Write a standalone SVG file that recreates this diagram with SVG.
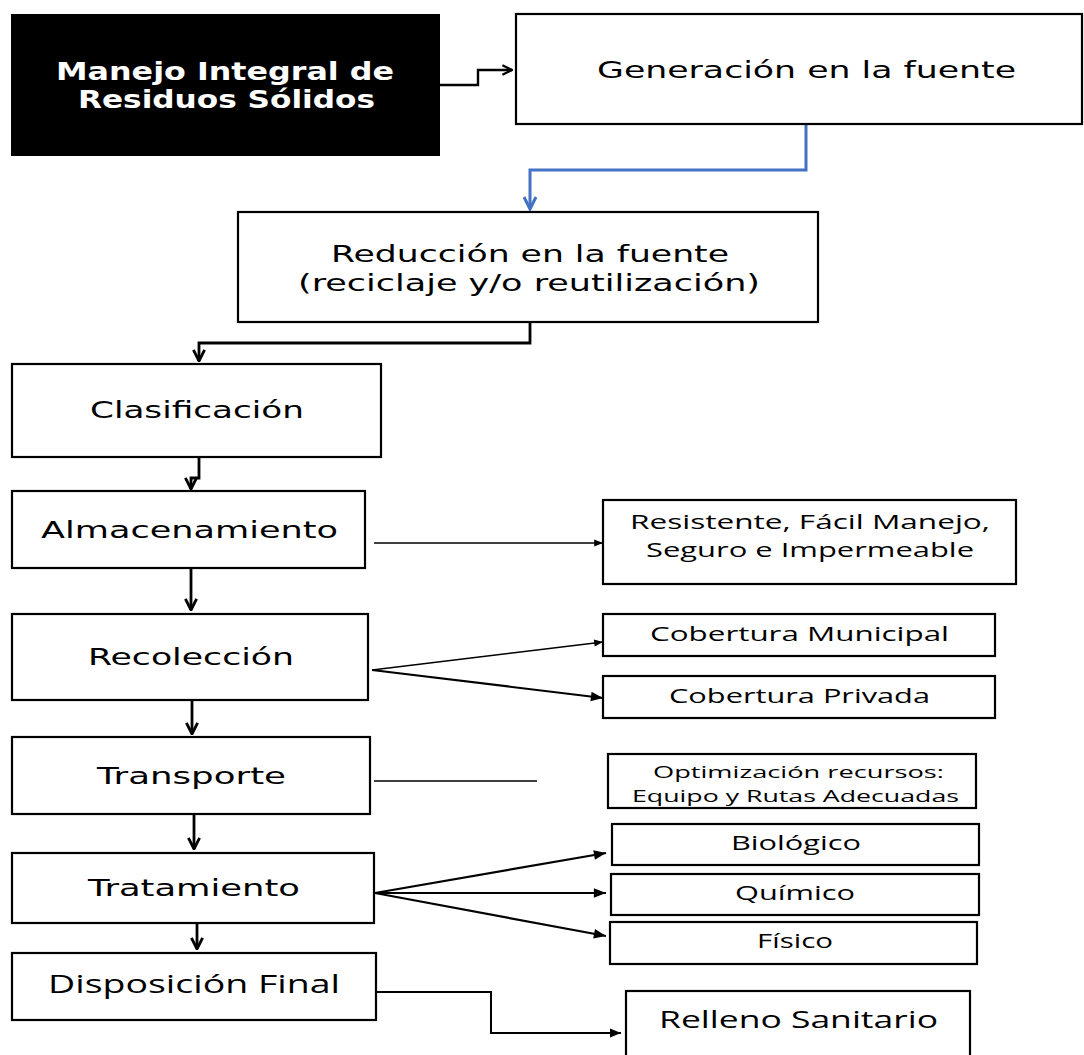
<svg xmlns="http://www.w3.org/2000/svg" width="1084" height="1055" viewBox="0 0 1084 1055">
<style>
.box{fill:#fff;stroke:#000;stroke-width:2.2}
.t{font-family:"DejaVu Sans","Liberation Sans",sans-serif;font-size:23px;fill:#000}
.s{font-family:"Open Sans","Liberation Sans",sans-serif;font-size:20px;fill:#000}
.w{font-family:"DejaVu Sans","Liberation Sans",sans-serif;font-size:24px;font-weight:bold;fill:#fff}
.c{fill:none;stroke:#000;stroke-width:2.8}
.cb{fill:none;stroke:#4472C4;stroke-width:3}
</style>
<defs>
<marker id="v" viewBox="0 0 10 10" refX="9" refY="5" markerWidth="5" markerHeight="5.5" orient="auto" markerUnits="strokeWidth">
<path d="M1,1 L9,5 L1,9" fill="none" stroke="#000" stroke-width="2"/>
</marker>
<marker id="vb" viewBox="0 0 10 10" refX="9" refY="5" markerWidth="5" markerHeight="5.5" orient="auto" markerUnits="strokeWidth">
<path d="M1,1 L9,5 L1,9" fill="none" stroke="#4472C4" stroke-width="2"/>
</marker>
<marker id="f" viewBox="0 0 10 10" refX="10" refY="5" markerWidth="7" markerHeight="5.5" orient="auto" markerUnits="strokeWidth">
<path d="M0,1 L10,5 L0,9 Z" fill="#000"/>
</marker>
</defs>
<g id="connectors">
<path class="c" style="stroke-width:2.4" d="M440,85 H478 V70 H512" marker-end="url(#v)"/>
<path class="cb" d="M806,124 V170 H530 V209" marker-end="url(#vb)"/>
<path class="c" d="M530,322 V343 H199 V361" marker-end="url(#v)"/>
<path class="c" d="M199,457 V478 H191 V489" marker-end="url(#v)"/>
<path class="c" d="M191,568 V610" marker-end="url(#v)"/>
<path class="c" d="M192,700 V734" marker-end="url(#v)"/>
<path class="c" d="M194,814 V849" marker-end="url(#v)"/>
<path class="c" d="M197,923 V949" marker-end="url(#v)"/>
<path class="c" style="stroke-width:1.6" d="M374,543 H603" marker-end="url(#f)"/>
<path class="c" style="stroke-width:1.6" d="M372,670 L603,642" marker-end="url(#f)"/>
<path class="c" style="stroke-width:2.2" d="M372,670 L603,698" marker-end="url(#f)"/>
<path class="c" style="stroke-width:1.3" d="M374,781 H537"/>
<path class="c" style="stroke-width:2.2" d="M375,893 L606,853" marker-end="url(#f)"/>
<path class="c" style="stroke-width:2.2" d="M375,893 H606" marker-end="url(#f)"/>
<path class="c" style="stroke-width:2.2" d="M375,893 L606,936" marker-end="url(#f)"/>
<path class="c" style="stroke-width:2" d="M376,992 H491 V1033 H621" marker-end="url(#f)"/>
</g>
<g id="n-manejo">
<rect x="11" y="14" width="429" height="142" fill="#000"/>
<text class="w" x="56" y="80" textLength="338" lengthAdjust="spacingAndGlyphs">Manejo Integral de</text>
<text class="w" x="78" y="108" textLength="297" lengthAdjust="spacingAndGlyphs">Residuos Sólidos</text>
</g>
<g id="n-generacion">
<rect class="box" x="516" y="14" width="566" height="110"/>
<text class="t" x="597" y="78" textLength="419" lengthAdjust="spacingAndGlyphs">Generación en la fuente</text>
</g>
<g id="n-reduccion">
<rect class="box" x="238" y="212" width="580" height="110"/>
<text class="t" x="331" y="262" textLength="398" lengthAdjust="spacingAndGlyphs">Reducción en la fuente</text>
<text class="t" x="298" y="291" textLength="462" lengthAdjust="spacingAndGlyphs">(reciclaje y/o reutilización)</text>
</g>
<g id="n-clasificacion">
<rect class="box" x="12" y="364" width="369" height="93"/>
<text class="t" x="90" y="418" textLength="214" lengthAdjust="spacingAndGlyphs">Clasificación</text>
</g>
<g id="n-almacenamiento">
<rect class="box" x="12" y="491" width="353" height="77"/>
<text class="t" x="41" y="538" textLength="297" lengthAdjust="spacingAndGlyphs">Almacenamiento</text>
</g>
<g id="n-resistente">
<rect class="box" x="603" y="500" width="413" height="84"/>
<text class="s" x="630" y="529" textLength="360" lengthAdjust="spacingAndGlyphs">Resistente, Fácil Manejo,</text>
<text class="s" x="646" y="557" textLength="328" lengthAdjust="spacingAndGlyphs">Seguro e Impermeable</text>
</g>
<g id="n-recoleccion">
<rect class="box" x="12" y="614" width="356" height="86"/>
<text class="t" x="88" y="665" textLength="206" lengthAdjust="spacingAndGlyphs">Recolección</text>
</g>
<g id="n-municipal">
<rect class="box" x="603" y="614" width="392" height="42"/>
<text class="s" x="650" y="641" textLength="299" lengthAdjust="spacingAndGlyphs">Cobertura Municipal</text>
</g>
<g id="n-privada">
<rect class="box" x="603" y="676" width="392" height="42"/>
<text class="s" x="669" y="703" textLength="261" lengthAdjust="spacingAndGlyphs">Cobertura Privada</text>
</g>
<g id="n-transporte">
<rect class="box" x="12" y="737" width="358" height="77"/>
<text class="t" x="97" y="784" textLength="189" lengthAdjust="spacingAndGlyphs">Transporte</text>
</g>
<g id="n-optimizacion">
<rect class="box" x="608" y="754" width="368" height="54"/>
<text class="s" style="font-size:17px" x="653" y="778" textLength="291" lengthAdjust="spacingAndGlyphs">Optimización recursos:</text>
<text class="s" style="font-size:17px" x="632" y="802" textLength="327" lengthAdjust="spacingAndGlyphs">Equipo y Rutas Adecuadas</text>
</g>
<g id="n-tratamiento">
<rect class="box" x="12" y="853" width="362" height="70"/>
<text class="t" x="88" y="896" textLength="212" lengthAdjust="spacingAndGlyphs">Tratamiento</text>
</g>
<g id="n-biologico">
<rect class="box" x="612" y="824" width="367" height="41"/>
<text class="s" x="731" y="850" textLength="130" lengthAdjust="spacingAndGlyphs">Biológico</text>
</g>
<g id="n-quimico">
<rect class="box" x="611" y="874" width="368" height="41"/>
<text class="s" x="735" y="900" textLength="120" lengthAdjust="spacingAndGlyphs">Químico</text>
</g>
<g id="n-fisico">
<rect class="box" x="610" y="922" width="367" height="42"/>
<text class="s" x="757" y="948" textLength="76" lengthAdjust="spacingAndGlyphs">Físico</text>
</g>
<g id="n-disposicion">
<rect class="box" x="12" y="953" width="364" height="67"/>
<text class="s" style="font-size:25px" x="48" y="993" textLength="292" lengthAdjust="spacingAndGlyphs">Disposición Final</text>
</g>
<g id="n-relleno">
<rect class="box" x="626" y="991" width="344" height="75"/>
<text class="s" style="font-size:24px" x="659" y="1028" textLength="279" lengthAdjust="spacingAndGlyphs">Relleno Sanitario</text>
</g>
</svg>
